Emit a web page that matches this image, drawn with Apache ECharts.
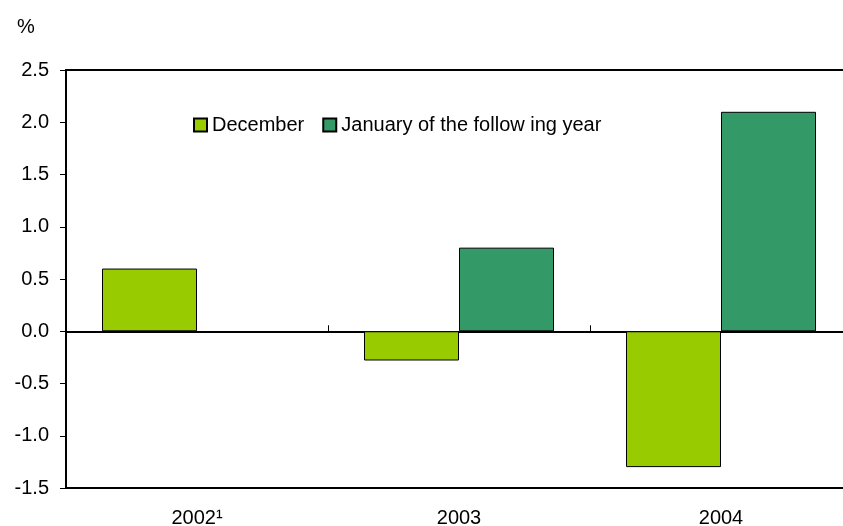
<!DOCTYPE html>
<html>
<head>
<meta charset="utf-8">
<title>December vs January</title>
<script src="https://cdn.jsdelivr.net/npm/echarts@6/dist/echarts.min.js"></script>
<style>
  body { margin: 0; background: #fff; overflow: hidden; }
  /* the plot runs a little past the right edge of the window, as in the original */
  #main { width: 852px; height: 526px; }
</style>
</head>
<body>
<div id="main"></div>
<script>
// data
var years = ['2002\u00b9', '2003', '2004'];
var december = [0.6, -0.28, -1.3];
var january = [null, 0.8, 2.1];
var yTicks = { min: -1.5, max: 2.5, step: 0.5 };

var myChart = echarts.init(document.getElementById('main'));
var font = 'Liberation Sans, Arial, sans-serif';

var option = {
    backgroundColor: '#fff',
    animation: false,
    textStyle: { fontFamily: font },
    title: {
        text: '%',
        left: 12,
        top: 12,
        textStyle: { fontFamily: font, fontSize: 20, fontWeight: 'normal', color: '#000' }
    },
    legend: {
        left: 188,
        top: 110,
        icon: 'rect',
        itemWidth: 13,
        itemHeight: 13,
        itemGap: 18,
        textStyle: { fontFamily: font, fontSize: 20, color: '#000' },
        data: ['December', 'January of the follow ing year']
    },
    grid: {
        left: 66,
        right: 0,
        top: 70,
        bottom: 38,
        outerBoundsMode: 'none'
    },
    xAxis: [{
        // axis line at zero with small ticks between groups
        type: 'category',
        data: years,
        axisLine: { onZero: true, lineStyle: { color: '#000', width: 2 } },
        axisTick: { show: true, inside: true, length: 6, lineStyle: { color: '#000', width: 1 } },
        axisLabel: { show: false }
    }, {
        // bottom frame line carrying the labels
        type: 'category',
        position: 'bottom',
        data: years,
        axisLine: { onZero: false, lineStyle: { color: '#000', width: 2 } },
        axisTick: { show: false },
        axisLabel: { fontFamily: font, fontSize: 20, color: '#000', margin: 20 }
    }, {
        // top frame line
        type: 'category',
        position: 'top',
        data: years,
        axisLine: { onZero: false, lineStyle: { color: '#000', width: 2 } },
        axisTick: { show: false },
        axisLabel: { show: false }
    }],
    yAxis: {
        type: 'value',
        min: yTicks.min,
        max: yTicks.max,
        interval: yTicks.step,
        axisLine: { show: true, lineStyle: { color: '#000', width: 2 } },
        axisTick: { show: true, length: 6, lineStyle: { color: '#000', width: 1 } },
        splitLine: { show: false },
        axisLabel: {
            fontFamily: font, fontSize: 20, color: '#000', margin: 17,
            formatter: function (v) { return v.toFixed(1); }
        }
    },
    series: [{
        name: 'December',
        type: 'bar',
        xAxisIndex: 0,
        barWidth: 95,
        barGap: '0%',
        itemStyle: { color: '#99cc00', borderColor: '#000', borderWidth: 1 },
        data: december
    }, {
        name: 'January of the follow ing year',
        type: 'bar',
        xAxisIndex: 0,
        barWidth: 95,
        barGap: '0%',
        itemStyle: { color: '#339966', borderColor: '#000', borderWidth: 1 },
        data: january
    }]
};

myChart.setOption(option);
</script>
</body>
</html>
